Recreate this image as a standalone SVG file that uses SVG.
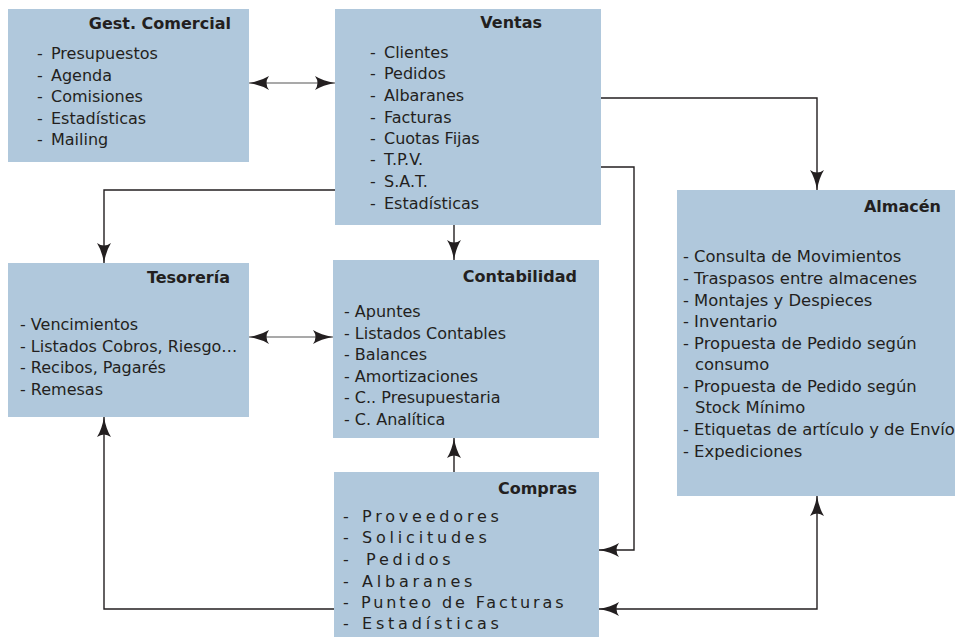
<svg xmlns="http://www.w3.org/2000/svg" width="955" height="637" viewBox="0 0 955 637">
<style>
.box{fill:#b0c8dc}
text{font-family:"DejaVu Sans","Liberation Sans",sans-serif;font-size:16px;fill:#231f20}
.t{font-weight:bold;text-anchor:end}
.sp{letter-spacing:3.8px}
.al{font-size:16.4px}
.ln{fill:none;stroke:#231f20;stroke-width:1.4}
.lg{fill:none;stroke:#555;stroke-width:1.2}
</style>
<defs>
<marker id="ah" markerUnits="userSpaceOnUse" markerWidth="20" markerHeight="14" viewBox="0 0 20 14" refX="20" refY="7" orient="auto-start-reverse">
<path d="M0,0 Q8,5 20,7 Q8,9 0,14 Q5,7 0,0 z" fill="#231f20"/>
</marker>
</defs>
<rect width="955" height="637" fill="#fff"/>
<g id="connectors">
<path class="lg" d="M249,83 H335" marker-start="url(#ah)" marker-end="url(#ah)"/>
<path class="ln" d="M601,98 H817 V190" marker-end="url(#ah)"/>
<path class="ln" d="M601,167 H634 V550 H599" marker-end="url(#ah)"/>
<path class="ln" d="M599,609 H817 V496" marker-start="url(#ah)" marker-end="url(#ah)"/>
<path class="ln" d="M335,190 H104 V263" marker-end="url(#ah)"/>
<path class="ln" d="M454,225 V260" marker-end="url(#ah)"/>
<path class="lg" d="M249,337 H333" marker-start="url(#ah)" marker-end="url(#ah)"/>
<path class="ln" d="M454,472 V438" marker-end="url(#ah)"/>
<path class="ln" d="M334,609 H104 V417" marker-end="url(#ah)"/>
</g>
<g id="gest">
<rect class="box" x="8" y="9" width="241" height="153"/>
<text class="t" x="231" y="29">Gest. Comercial</text>
<text x="37" y="59">-<tspan x="51">Presupuestos</tspan></text>
<text x="37" y="81">-<tspan x="51">Agenda</tspan></text>
<text x="37" y="102">-<tspan x="51">Comisiones</tspan></text>
<text x="37" y="124">-<tspan x="51">Estadísticas</tspan></text>
<text x="37" y="145">-<tspan x="51">Mailing</tspan></text>
</g>
<g id="ventas">
<rect class="box" x="335" y="9" width="266" height="216"/>
<text class="t" x="542" y="28">Ventas</text>
<text x="370" y="58">-<tspan x="384">Clientes</tspan></text>
<text x="370" y="79">-<tspan x="384">Pedidos</tspan></text>
<text x="370" y="101">-<tspan x="384">Albaranes</tspan></text>
<text x="370" y="123">-<tspan x="384">Facturas</tspan></text>
<text x="370" y="144">-<tspan x="384">Cuotas Fijas</tspan></text>
<text x="370" y="165">-<tspan x="384">T.P.V.</tspan></text>
<text x="370" y="187">-<tspan x="384">S.A.T.</tspan></text>
<text x="370" y="209">-<tspan x="384">Estadísticas</tspan></text>
</g>
<g id="almacen">
<rect class="box" x="677" y="190" width="280" height="306"/>
<text class="t" x="941" y="212">Almacén</text>
<text class="al" x="683" y="262">- Consulta de Movimientos</text>
<text class="al" x="683" y="284">- Traspasos entre almacenes</text>
<text class="al" x="683" y="306">- Montajes y Despieces</text>
<text class="al" x="683" y="327">- Inventario</text>
<text class="al" x="683" y="349">- Propuesta de Pedido según</text>
<text class="al" x="695" y="370">consumo</text>
<text class="al" x="683" y="392">- Propuesta de Pedido según</text>
<text class="al" x="695" y="413">Stock Mínimo</text>
<text class="al" x="683" y="435">- Etiquetas de artículo y de Envíos</text>
<text class="al" x="683" y="457">- Expediciones</text>
</g>
<g id="tesoreria">
<rect class="box" x="8" y="263" width="241" height="154"/>
<text class="t" x="230" y="283">Tesorería</text>
<text x="20" y="330">- Vencimientos</text>
<text x="20" y="352">- Listados Cobros, Riesgo…</text>
<text x="20" y="373">- Recibos, Pagarés</text>
<text x="20" y="395">- Remesas</text>
</g>
<g id="contabilidad">
<rect class="box" x="333" y="260" width="266" height="178"/>
<text class="t" x="577" y="282">Contabilidad</text>
<text x="344" y="317">- Apuntes</text>
<text x="344" y="339">- Listados Contables</text>
<text x="344" y="360">- Balances</text>
<text x="344" y="382">- Amortizaciones</text>
<text x="344" y="403">- C.. Presupuestaria</text>
<text x="344" y="425">- C. Analítica</text>
</g>
<g id="compras">
<rect class="box" x="334" y="472" width="265" height="165"/>
<text class="t" x="577" y="494">Compras</text>
<text class="sp" x="343" y="522">-<tspan x="362">Proveedores</tspan></text>
<text class="sp" x="343" y="543">-<tspan x="362">Solicitudes</tspan></text>
<text class="sp" x="343" y="565">-<tspan x="366">Pedidos</tspan></text>
<text class="sp" x="343" y="587">-<tspan x="362">Albaranes</tspan></text>
<text x="343" y="608" style="letter-spacing:2.9px">-<tspan x="361">Punteo de Facturas</tspan></text>
<text class="sp" x="343" y="629">-<tspan x="362">Estadísticas</tspan></text>
</g>
</svg>
